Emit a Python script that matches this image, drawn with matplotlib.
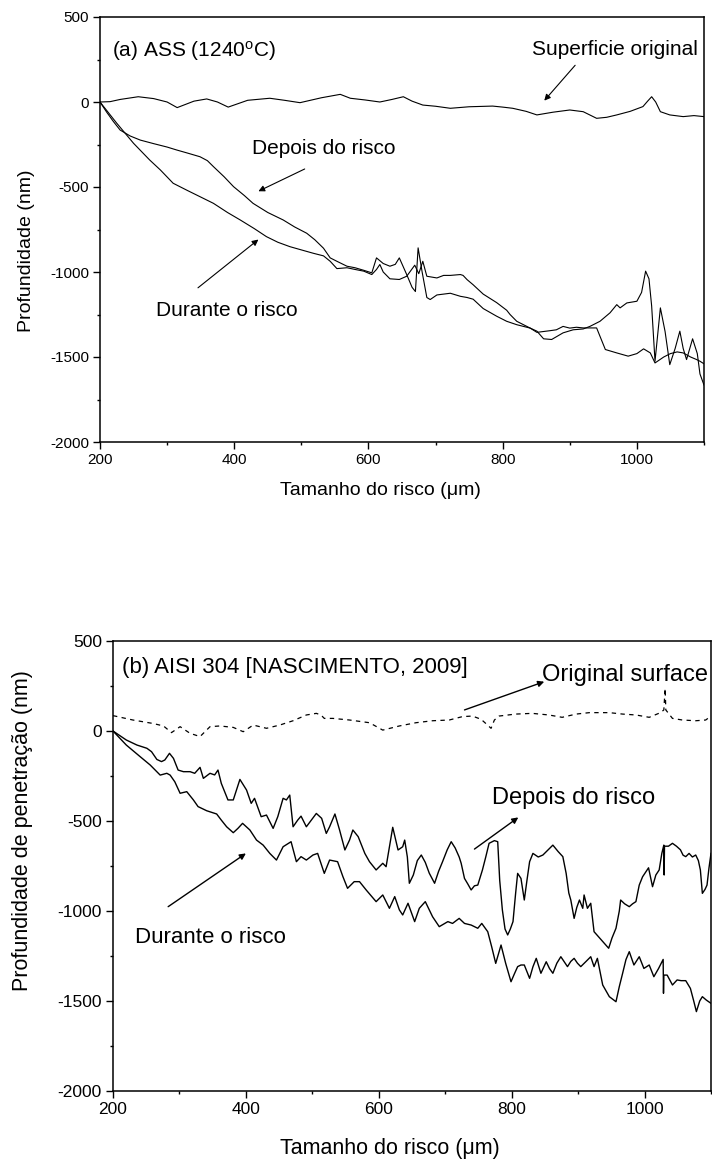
import matplotlib
matplotlib.use('Agg')
import matplotlib.pyplot as plt
from matplotlib.ticker import MultipleLocator

plt.rcParams['font.family'] = ['Liberation Sans', 'DejaVu Sans']
plt.rcParams['mathtext.fontset'] = 'custom'
plt.rcParams['mathtext.rm'] = 'Liberation Sans'
plt.rcParams['mathtext.it'] = 'Liberation Sans:italic'
plt.rcParams['axes.unicode_minus'] = False

# ---- dados (a) ASS 1240C ----
a_surf_x = [200, 215, 230, 257, 280, 300, 315, 340, 359, 375, 391, 420, 453, 475, 498, 530,
            558, 573, 595, 617, 635, 652, 665, 681, 700, 722, 750, 785, 800, 815, 835, 851,
            875, 900, 920, 940, 955, 970, 990, 1009, 1016, 1022, 1028, 1035, 1049, 1069, 1085, 1100]
a_surf_y = [0, 2, 15, 31, 20, 0, -33, 5, 18, 0, -30, 10, 22, 10, -4, 25,
            45, 22, 12, 0, 15, 31, 5, -18, -25, -37, -28, -24, -30, -37, -55, -76,
            -60, -47, -57, -96, -90, -76, -55, -27, 5, 31, 0, -57, -76, -86, -80, -86]

a_depois_x = [200, 210, 220, 230, 245, 260, 280, 300, 314, 330, 349, 360, 369, 385, 399, 415,
              428, 450, 473, 490, 508, 520, 533, 543, 553, 568, 580, 593, 605, 612, 622, 632,
              640, 646, 657, 665, 670, 674, 680, 687, 692, 702, 712, 722, 737, 747, 756, 771,
              791, 806, 821, 841, 851, 861, 873, 890, 905, 920, 930, 945, 960, 970, 975, 985,
              1000, 1007, 1013, 1018, 1022, 1027, 1035, 1042, 1049, 1057, 1064, 1069, 1074, 1083,
              1090, 1094, 1100]
a_depois_y = [0, -60, -115, -165, -200, -224, -245, -265, -282, -300, -322, -345, -380, -440, -498, -550,
              -596, -650, -694, -735, -772, -810, -860, -917, -937, -966, -975, -990, -1005, -917, -950, -966,
              -955, -917, -1015, -1090, -1115, -858, -1000, -1150, -1162, -1135, -1130, -1125, -1143, -1150, -1160, -1215,
              -1260, -1290, -1310, -1330, -1348, -1393, -1397, -1358, -1340, -1335, -1320, -1290, -1240, -1192, -1211, -1182,
              -1172, -1120, -995, -1040, -1200, -1525, -1211, -1350, -1545, -1450, -1348, -1450, -1515, -1393,
              -1480, -1600, -1665]

a_durante_x = [200, 210, 225, 250, 274, 290, 309, 330, 349, 369, 390, 409, 430, 448, 465, 483,
               500, 518, 533, 543, 553, 568, 580, 593, 605, 612, 617, 622, 632, 646, 657, 669,
               675, 681, 687, 702, 712, 722, 737, 741, 747, 756, 771, 791, 806, 811, 821, 831,
               841, 851, 861, 871, 880, 890, 900, 910, 920, 940, 945, 953, 970, 987, 1000, 1010,
               1020, 1027, 1040, 1050, 1060, 1069, 1080, 1089, 1094, 1100]
a_durante_y = [0, -50, -125, -243, -341, -400, -478, -520, -557, -596, -650, -694, -745, -792, -825, -851,
               -870, -890, -905, -937, -980, -975, -985, -995, -1015, -985, -956, -1000, -1040, -1044, -1025, -960,
               -1010, -937, -1025, -1035, -1020, -1020, -1015, -1020, -1045, -1075, -1130, -1180, -1225, -1250, -1290, -1310,
               -1330, -1355, -1350, -1345, -1340, -1320, -1330, -1325, -1329, -1329, -1378, -1456, -1476, -1495, -1480, -1452,
               -1476, -1535, -1500, -1480, -1470, -1476, -1500, -1515, -1525, -1540]

# ---- dados (b) AISI 304 ----
b_surf_x = [200, 203, 230, 260, 276, 288, 301, 316, 331, 346, 361, 381, 396, 411, 431, 451,
            471, 491, 506, 513, 518, 531, 556, 586, 606, 631, 656, 681, 706, 726, 741, 754,
            761, 769, 774, 781, 806, 831, 856, 876, 897, 917, 947, 967, 987, 1007, 1024, 1029,
            1031, 1032, 1042, 1057, 1077, 1092, 1100]
b_surf_y = [85, 83, 61, 42, 28, -9, 24, -13, -31, 24, 28, 20, -4, 33, 15, 33,
            57, 89, 98, 89, 70, 70, 61, 46, 5, 28, 46, 57, 61, 80, 83, 65,
            42, 15, 61, 83, 94, 98, 89, 76, 94, 102, 102, 94, 89, 76, 102, 117,
            237, 117, 70, 61, 57, 61, 83]

b_depois_x = [200, 220, 236, 251, 258, 266, 273, 278, 285, 291, 298, 306, 316, 323, 331, 336,
              346, 353, 358, 363, 373, 381, 391, 401, 408, 413, 423, 431, 441, 448, 456, 461,
              466, 471, 478, 483, 491, 506, 514, 521, 526, 534, 541, 549, 556, 561, 569, 579,
              586, 596, 606, 611, 621, 629, 636, 639, 643, 646, 652, 658, 664, 670, 676, 684,
              690, 696, 703, 709, 715, 721, 724, 729, 734, 739, 744, 749, 756, 761, 766, 774,
              779, 782, 786, 790, 794, 798, 802, 806, 809, 814, 819, 823, 827, 832, 840, 847,
              855, 862, 870, 877, 882, 886, 889, 894, 898, 902, 907, 909, 914, 919, 924, 930,
              937, 946, 951, 957, 962, 964, 970, 977, 982, 987, 992, 997, 1002, 1006, 1012, 1017,
              1022, 1026, 1029, 1029.5, 1030, 1036, 1042, 1048, 1054, 1058, 1062, 1067, 1072, 1077, 1081, 1084,
              1087, 1091, 1094, 1097, 1100]
b_depois_y = [0, -50, -78, -96, -115, -158, -170, -161, -124, -152, -217, -226, -226, -235, -202, -263,
              -235, -244, -217, -291, -383, -383, -269, -328, -402, -374, -476, -467, -541, -476, -374, -383,
              -356, -532, -495, -473, -532, -458, -485, -569, -532, -461, -550, -661, -606, -550, -587, -680,
              -726, -772, -735, -754, -535, -661, -643, -606, -700, -846, -800, -720, -689, -730, -790, -846,
              -780, -726, -660, -615, -650, -700, -735, -819, -850, -883, -860, -856, -772, -700, -624, -609,
              -615, -830, -994, -1100, -1133, -1100, -1059, -900, -791, -819, -939, -830, -726, -680, -700, -689,
              -660, -634, -670, -698, -791, -900, -939, -1041, -980, -939, -985, -911, -985, -957, -1115, -1140,
              -1170, -1207, -1150, -1096, -1000, -939, -960, -976, -960, -948, -856, -810, -782, -760, -865, -800,
              -772, -680, -634, -800, -640, -640, -624, -640, -660, -690, -698, -680, -700, -689, -720, -772,
              -902, -880, -856, -760, -680]

b_durante_x = [200, 220, 241, 256, 271, 281, 286, 293, 301, 311, 321, 328, 341, 356, 363, 371,
               381, 388, 395, 406, 416, 426, 436, 446, 456, 468, 476, 483, 491, 501, 508, 518,
               526, 538, 546, 553, 563, 571, 581, 596, 606, 616, 624, 631, 636, 644, 654, 661,
               670, 681, 691, 704, 711, 721, 729, 739, 749, 755, 764, 770, 776, 784, 791, 799,
               804, 809, 814, 819, 827, 832, 837, 844, 852, 857, 862, 868, 874, 884, 889, 894,
               899, 904, 912, 919, 924, 929, 937, 947, 957, 962, 967, 972, 977, 984, 992, 999,
               1007, 1014, 1021, 1028, 1028.5, 1029, 1034, 1042, 1049, 1055, 1062, 1069, 1074, 1078, 1083, 1087,
               1093, 1100]
b_durante_y = [0, -78, -143, -189, -245, -235, -245, -282, -346, -337, -383, -420, -443, -461, -495, -532,
               -565, -541, -513, -550, -606, -634, -680, -717, -643, -615, -726, -698, -717, -689, -680, -791,
               -717, -726, -809, -874, -837, -837, -883, -948, -911, -985, -920, -994, -1022, -957, -1059, -985,
               -948, -1032, -1087, -1059, -1069, -1041, -1069, -1078, -1096, -1069, -1115, -1200, -1291, -1189, -1291, -1393,
               -1350, -1309, -1300, -1300, -1374, -1310, -1263, -1346, -1282, -1320, -1346, -1290, -1254, -1309, -1280, -1263,
               -1290, -1309, -1280, -1254, -1309, -1263, -1411, -1476, -1504, -1420, -1346, -1270, -1226, -1300, -1254, -1319,
               -1300, -1365, -1320, -1269, -1457, -1356, -1356, -1411, -1383, -1387, -1387, -1430, -1500, -1559, -1500, -1476,
               -1495, -1513]

x_ticks = [200, 400, 600, 800, 1000]
y_ticks = [-2000, -1500, -1000, -500, 0, 500]


def estilo(ax, fs_tick):
    ax.set_xlim(200, 1100)
    ax.set_ylim(-2000, 500)
    ax.set_xticks(x_ticks)
    ax.set_yticks(y_ticks)
    ax.xaxis.set_minor_locator(MultipleLocator(100))
    ax.yaxis.set_minor_locator(MultipleLocator(250))
    ax.tick_params(which='major', direction='out', length=5, width=1.0, labelsize=fs_tick, pad=3)
    ax.tick_params(which='minor', direction='out', length=2.5, width=1.0)
    ax.tick_params(top=False, right=False, which='both')
    for s in ax.spines.values():
        s.set_linewidth(1.1)


def seta(ax, tip, tail, lw=0.8):
    ax.annotate('', xy=tip, xytext=tail,
                arrowprops=dict(arrowstyle='-|>', color='k', lw=lw, shrinkA=0, shrinkB=0,
                                mutation_scale=9))


fig = plt.figure(figsize=(7.12, 11.63), dpi=100)

# ---------- (a) ----------
ax1 = fig.add_axes([100 / 712, 1 - 442 / 1163, 604 / 712, 425 / 1163])
ax1.plot(a_surf_x, a_surf_y, color='k', lw=0.8)
ax1.plot(a_depois_x, a_depois_y, color='k', lw=0.8)
ax1.plot(a_durante_x, a_durante_y, color='k', lw=0.8)
estilo(ax1, 11)
ax1.set_xlabel('Tamanho do risco (μm)', fontsize=14)
ax1.set_ylabel('Profundidade (nm)', fontsize=14)
ax1.xaxis.set_label_coords(0.4636, -0.095)
ax1.yaxis.set_label_coords(-0.1225, 0.449)
ax1.yaxis.label.set_verticalalignment('center')

ax1.text(218, 269, r'(a) ASS (1240$^{\mathrm{o}}$C)', fontsize=15, ha='left', va='baseline')
ax1.text(843, 279, 'Superficie original', fontsize=15, ha='left', va='baseline')
ax1.text(426, -303, 'Depois do risco', fontsize=15, ha='left', va='baseline')
ax1.text(284, -1261, 'Durante o risco', fontsize=15, ha='left', va='baseline')
seta(ax1, (862, 8), (908, 216))
seta(ax1, (436, -525), (505, -394))
seta(ax1, (436, -809), (346, -1093))

# ---------- (b) ----------
ax2 = fig.add_axes([113 / 712, 1 - 1091 / 1163, 598 / 712, 450 / 1163])
ax2.plot(b_surf_x, b_surf_y, color='k', lw=0.9, ls=(0, (3.5, 3.5)))
ax2.plot(b_depois_x, b_depois_y, color='k', lw=1.0)
ax2.plot(b_durante_x, b_durante_y, color='k', lw=1.0)
estilo(ax2, 12.5)
ax2.set_xlabel('Tamanho do risco (μm)', fontsize=15.5)
ax2.set_ylabel('Profundidade de penetração (nm)', fontsize=15.5)
ax2.xaxis.set_label_coords(0.463, -0.105)
ax2.yaxis.set_label_coords(-0.152, 0.578)
ax2.yaxis.label.set_verticalalignment('center')

ax2.text(213, 324, '(b) AISI 304 [NASCIMENTO, 2009]', fontsize=16, ha='left', va='baseline')
ax2.text(846, 278, 'Original surface', fontsize=17, ha='left', va='baseline')
ax2.text(770, -405, 'Depois do risco', fontsize=17, ha='left', va='baseline')
ax2.text(233, -1180, 'Durante o risco', fontsize=16, ha='left', va='baseline')
seta(ax2, (849, 274), (729, 117), lw=1.0)
seta(ax2, (810, -480), (744, -656), lw=1.0)
seta(ax2, (400, -680), (283, -976), lw=1.0)

fig.savefig('out.png', dpi=100)
